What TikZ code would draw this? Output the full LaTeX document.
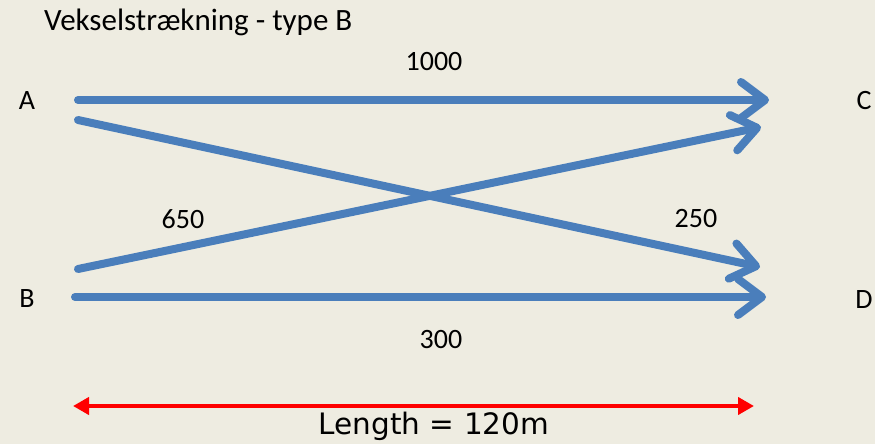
\documentclass[tikz,border=0pt]{standalone}
\usepackage{fontspec}
\setmainfont{Carlito}
\newfontfamily\lenfont{DejaVu Sans}
\usetikzlibrary{arrows.meta}
\definecolor{bg}{HTML}{EEECE1}
\definecolor{flow}{HTML}{4A7EBB}
\tikzset{
  lbl/.style={inner sep=0pt, font=\fontsize{28}{32}\selectfont},
  flowline/.style={draw=flow, line width=8pt, line cap=round, line join=round,
    -{Straight Barb[length=24pt, width=36pt, line cap=round, line join=round]}},
  measure/.style={draw=red, line width=4pt, {Triangle[length=16pt,width=17pt]}-{Triangle[length=16pt,width=17pt]}}
}
\begin{document}
\begin{tikzpicture}[x=1pt,y=-1pt]
\useasboundingbox (0,0) rectangle (875,444);
\fill[bg] (0,0) rectangle (875,444);
\node[lbl, anchor=west, font=\fontsize{31}{36}\selectfont] (title) at (44,22) {Vekselstrækning - type B};
\node[lbl] (A) at (27,101) {A};
\node[lbl] (B) at (27,299) {B};
\node[lbl] (C) at (864,101) {C};
\node[lbl] (D) at (864,300) {D};
\coordinate (a1) at (78,100);
\coordinate (a2) at (78,120);
\coordinate (b1) at (78,269);
\coordinate (b2) at (75,297);
\coordinate (c1) at (769,100);
\coordinate (c2) at (761,127);
\coordinate (d1) at (760,267);
\coordinate (d2) at (766,297);
\draw[flowline] (a1) -- (c1);
\draw[flowline] (a2) -- (d1);
\draw[flowline] (b1) -- (c2);
\draw[flowline] (b2) -- (d2);
\node[lbl] (n1000) at (434,62) {1000};
\node[lbl] (n650) at (183,219) {650};
\node[lbl] (n250) at (696,219) {250};
\node[lbl] (n300) at (441,340) {300};
\coordinate (m1) at (73,406);
\coordinate (m2) at (754,406);
\draw[measure] (m1) -- (m2);
\node[inner sep=0pt, font=\lenfont\fontsize{29.5}{34}\selectfont] (len) at (434,426) {Length = 120m};
\end{tikzpicture}
\end{document}
